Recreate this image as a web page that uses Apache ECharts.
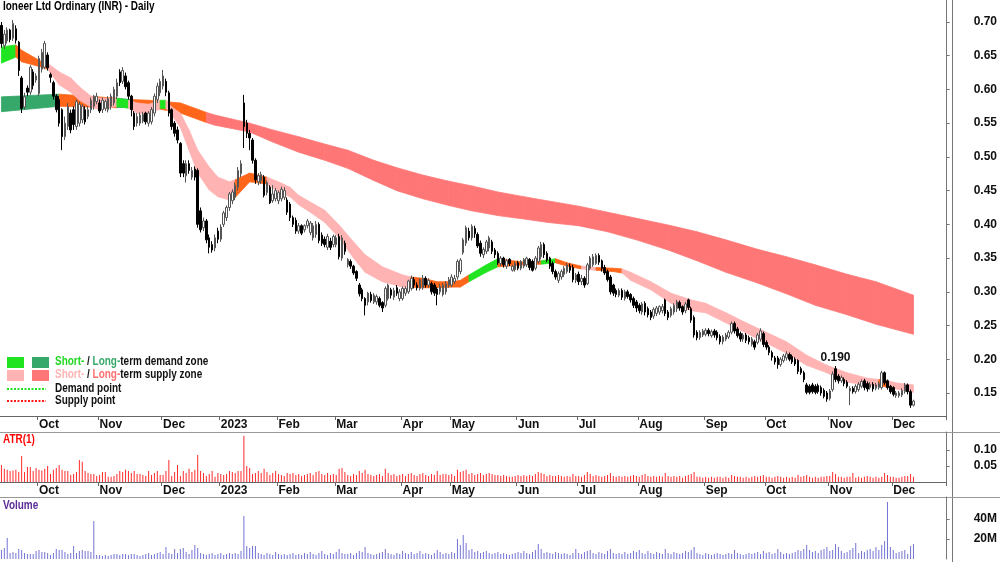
<!DOCTYPE html>
<html>
<head>
<meta charset="utf-8">
<script src="https://cdn.jsdelivr.net/npm/echarts@6/dist/echarts.min.js"></script>
<style>
  html, body { margin: 0; background: #fff; }
  #chart { width: 1000px; height: 562px; }
</style>
</head>
<body>
<div id="chart"></div>
<script>
// trading days, Sep 2022 - Dec 2023, plus a few empty slots at the right edge
const dayCount = 328
const days = Array.from({ length: dayCount }, (_, i) => i)
const monthStart = [13, 34, 56, 76, 96, 116, 139, 156, 179, 200, 221, 244, 265, 287, 309]
const monthLabels = ['Oct', 'Nov', 'Dec', '2023', 'Feb', 'Mar', 'Apr', 'May', 'Jun', 'Jul', 'Aug', 'Sep', 'Oct', 'Nov', 'Dec']

const priceTicks = [0.15, 0.20, 0.25, 0.30, 0.35, 0.40, 0.45, 0.50, 0.55, 0.60, 0.65, 0.70]
const atrTicks = [0.05, 0.10]
const volTicks = [20, 40]

// [open, close, low, high]
const candles = [
  // Sep 2022
  [.695,.668,.662,.70],[.665,.682,.66,.688],[.672,.688,.668,.692],[.688,.674,.67,.69],[.676,.698,.672,.703],
  [.69,.673,.668,.695],[.67,.628,.62,.672],[.617,.572,.565,.62],[.574,.589,.57,.595],[.602,.596,.59,.606],
  [.596,.633,.592,.636],[.626,.606,.60,.63],[.614,.62,.61,.624],
  // Oct
  [.594,.646,.59,.65],[.63,.655,.625,.66],[.633,.668,.63,.672],[.651,.632,.628,.655],[.622,.618,.61,.625],
  [.61,.59,.585,.613],[.59,.57,.566,.593],[.585,.55,.545,.59],[.57,.53,.51,.572],[.53,.55,.525,.56],
  [.545,.575,.54,.58],[.565,.54,.535,.57],[.57,.548,.54,.575],[.545,.582,.54,.585],[.55,.578,.545,.582],
  [.555,.575,.55,.578],[.57,.552,.548,.575],[.56,.57,.556,.575],[.57,.584,.565,.588],[.575,.59,.57,.592],
  [.582,.59,.578,.595],
  // Nov
  [.58,.568,.565,.585],[.57,.584,.565,.588],[.572,.582,.568,.585],[.57,.586,.566,.59],[.575,.59,.57,.594],
  [.58,.60,.576,.604],[.59,.61,.586,.616],[.626,.61,.605,.63],[.612,.628,.608,.633],[.62,.604,.60,.625],
  [.61,.59,.585,.613],[.59,.57,.56,.592],[.565,.545,.54,.568],[.55,.56,.545,.565],[.55,.562,.546,.566],
  [.553,.563,.55,.567],[.565,.552,.548,.567],[.55,.565,.545,.568],[.552,.57,.548,.574],[.565,.59,.56,.594],
  [.585,.605,.58,.61],[.595,.612,.59,.616],
  // Dec
  [.605,.62,.60,.629],[.612,.596,.59,.616],[.595,.565,.56,.598],[.57,.545,.54,.572],[.55,.535,.53,.553],
  [.54,.525,.52,.545],[.52,.476,.47,.522],[.49,.476,.47,.495],[.472,.49,.462,.495],[.49,.48,.475,.495],
  [.47,.48,.466,.485],[.482,.47,.465,.486],[.48,.40,.395,.483],[.42,.392,.388,.425],[.395,.405,.39,.41],
  [.405,.377,.372,.408],[.38,.366,.357,.385],[.37,.362,.358,.375],[.365,.38,.36,.385],[.39,.378,.372,.395],
  // Jan 2023
  [.378,.396,.374,.40],[.40,.417,.396,.42],[.41,.425,.405,.428],[.425,.445,.42,.448],[.435,.448,.43,.452],
  [.44,.458,.436,.462],[.455,.48,.45,.485],[.475,.49,.47,.495],[.58,.545,.513,.592],[.55,.535,.528,.555],
  [.535,.528,.51,.54],[.525,.495,.49,.528],[.495,.466,.46,.498],[.463,.472,.458,.476],[.465,.474,.46,.478],
  [.47,.443,.44,.473],[.447,.462,.443,.465],[.455,.432,.43,.458],[.435,.445,.432,.458],[.438,.45,.434,.454],
  // Feb
  [.435,.447,.43,.45],[.438,.452,.434,.456],[.44,.45,.436,.455],[.436,.418,.414,.44],[.43,.41,.405,.433],
  [.41,.40,.396,.413],[.406,.39,.386,.41],[.39,.398,.386,.402],[.398,.387,.384,.40],[.392,.398,.388,.40],
  [.398,.405,.394,.408],[.388,.402,.384,.405],[.38,.398,.376,.402],[.385,.40,.38,.405],[.40,.376,.372,.403],
  [.384,.372,.368,.388],[.378,.37,.366,.382],[.366,.382,.362,.386],[.375,.366,.362,.38],[.37,.382,.366,.385],
  // Mar
  [.37,.38,.366,.384],[.382,.352,.348,.386],[.35,.38,.346,.384],[.372,.36,.355,.376],[.34,.348,.336,.35],
  [.345,.338,.334,.348],[.338,.328,.325,.34],[.33,.32,.316,.332],[.31,.297,.293,.313],[.303,.29,.286,.306],
  [.29,.28,.265,.292],[.285,.298,.28,.30],[.296,.287,.284,.30],[.285,.295,.282,.298],[.285,.293,.281,.296],
  [.29,.28,.277,.293],[.284,.276,.27,.286],[.28,.305,.277,.308],[.29,.31,.287,.312],[.303,.295,.29,.306],
  [.292,.302,.288,.306],[.306,.298,.294,.31],[.29,.30,.286,.304],
  // Apr
  [.29,.305,.287,.308],[.298,.305,.294,.308],[.30,.316,.297,.318],[.305,.32,.302,.324],[.318,.31,.305,.322],
  [.31,.306,.302,.314],[.305,.318,.302,.32],[.306,.32,.303,.325],[.32,.31,.306,.323],[.31,.317,.306,.32],
  [.312,.30,.296,.315],[.31,.298,.294,.313],[.304,.296,.28,.307],[.30,.308,.296,.312],[.296,.31,.293,.313],
  [.30,.312,.296,.316],[.31,.318,.306,.322],
  // May
  [.31,.322,.307,.326],[.315,.32,.312,.325],[.322,.345,.318,.348],[.33,.347,.326,.35],[.358,.377,.355,.38],
  [.372,.395,.368,.398],[.39,.38,.376,.395],[.38,.397,.376,.40],[.394,.386,.38,.398],[.385,.368,.365,.388],
  [.372,.357,.352,.376],[.355,.363,.35,.366],[.36,.374,.356,.377],[.365,.38,.36,.383],[.374,.36,.356,.377],
  [.362,.355,.35,.365],[.357,.343,.34,.36],[.342,.35,.338,.353],[.35,.34,.336,.352],[.338,.346,.334,.349],
  [.348,.342,.338,.35],[.332,.338,.33,.34],[.333,.342,.33,.345],
  // Jun
  [.343,.335,.332,.346],[.335,.345,.332,.347],[.338,.348,.335,.35],[.34,.35,.337,.352],[.348,.336,.332,.35],
  [.345,.332,.33,.348],[.335,.35,.332,.353],[.345,.365,.342,.368],[.352,.37,.348,.374],[.37,.355,.35,.373],
  [.357,.347,.344,.36],[.35,.338,.334,.352],[.342,.33,.326,.345],[.33,.322,.318,.333],[.317,.327,.313,.33],
  [.322,.33,.318,.333],[.326,.335,.322,.338],[.33,.34,.327,.343],[.338,.332,.328,.342],[.336,.318,.314,.34],
  [.317,.325,.313,.328],
  // Jul
  [.326,.315,.31,.33],[.315,.32,.31,.325],[.32,.31,.306,.323],[.312,.34,.31,.343],[.335,.35,.332,.353],
  [.34,.352,.337,.356],[.342,.354,.34,.357],[.354,.344,.34,.357],[.346,.335,.33,.348],[.336,.328,.325,.34],
  [.33,.318,.315,.333],[.322,.30,.296,.325],[.31,.298,.294,.312],[.302,.296,.292,.305],[.295,.302,.292,.305],
  [.302,.292,.288,.305],[.29,.30,.287,.303],[.30,.293,.29,.303],[.296,.288,.284,.298],[.29,.28,.276,.293],
  [.285,.276,.27,.288],
  // Aug
  [.28,.272,.268,.283],[.27,.282,.266,.285],[.283,.27,.265,.286],[.275,.266,.262,.278],[.27,.262,.258,.273],
  [.264,.274,.26,.277],[.268,.276,.264,.279],[.27,.278,.266,.28],[.272,.278,.268,.282],[.288,.268,.264,.29],
  [.27,.262,.258,.273],[.265,.275,.262,.278],[.27,.28,.266,.283],[.275,.285,.27,.288],[.284,.276,.272,.287],
  [.278,.27,.266,.28],[.272,.282,.268,.285],[.288,.277,.273,.29],[.275,.258,.254,.278],[.262,.236,.232,.265],
  [.24,.232,.228,.243],[.232,.24,.229,.243],[.236,.242,.233,.245],
  // Sep
  [.237,.243,.234,.246],[.243,.238,.234,.246],[.235,.241,.232,.244],[.242,.236,.232,.245],[.24,.232,.228,.243],
  [.234,.226,.222,.237],[.226,.233,.222,.236],[.23,.236,.227,.239],[.233,.24,.23,.243],[.24,.253,.237,.256],
  [.253,.242,.238,.256],[.245,.235,.232,.248],[.238,.23,.226,.241],[.23,.236,.226,.239],[.236,.228,.224,.239],
  [.232,.226,.222,.235],[.222,.23,.219,.233],[.226,.218,.214,.229],[.225,.236,.222,.239],[.23,.242,.226,.246],
  [.238,.222,.218,.241],
  // Oct
  [.225,.218,.214,.228],[.218,.21,.206,.221],[.21,.203,.198,.213],[.202,.196,.192,.205],[.202,.192,.186,.205],
  [.192,.20,.189,.203],[.198,.205,.195,.208],[.202,.208,.198,.212],[.207,.20,.197,.21],[.204,.196,.193,.207],
  [.20,.193,.19,.203],[.198,.182,.178,.20],[.186,.18,.177,.189],[.18,.17,.166,.183],[.162,.151,.148,.165],
  [.16,.151,.148,.163],[.162,.152,.149,.165],[.16,.151,.148,.163],[.161,.152,.149,.164],[.158,.15,.146,.161],
  [.154,.145,.142,.157],[.15,.141,.137,.153],
  // Nov
  [.142,.153,.139,.156],[.155,.178,.152,.182],[.186,.17,.166,.19],[.175,.168,.164,.178],[.168,.173,.165,.176],
  [.17,.164,.16,.173],[.166,.16,.157,.169],[.153,.157,.132,.16],[.157,.152,.149,.16],[.152,.16,.149,.163],
  [.155,.163,.152,.166],[.16,.167,.157,.17],[.168,.158,.154,.171],[.164,.156,.152,.167],[.158,.163,.155,.166],
  [.163,.156,.152,.166],[.157,.162,.154,.165],[.158,.164,.155,.167],[.158,.18,.155,.183],[.18,.165,.162,.182],
  [.168,.158,.155,.17],[.16,.152,.149,.162],
  // Dec
  [.158,.148,.145,.16],[.146,.15,.143,.153],[.146,.15,.143,.153],[.147,.154,.144,.157],[.152,.162,.149,.165],
  [.162,.152,.148,.164],[.152,.132,.128,.155],[.132,.138,.13,.14]
]

const atr = [
  .053,.041,.038,.034,.036,.038,.031,.081,.031,.047,
  .047,.034,.044,.038,.036,.041,.05,.025,.038,.044,
  .053,.038,.034,.034,.022,.025,.031,.069,.063,.034,
  .028,.025,.025,.019,.022,.031,.031,.016,.016,.019,
  .025,.034,.031,.038,.034,.028,.034,.025,.025,.022,
  .019,.034,.022,.028,.034,.022,.022,.034,.069,.019,
  .031,.053,.019,.034,.028,.041,.031,.038,.084,.034,
  .028,.019,.025,.034,.016,.028,.025,.022,.025,.034,
  .031,.028,.034,.034,.144,.05,.044,.025,.028,.034,
  .028,.041,.031,.022,.028,.034,.025,.022,.019,.028,
  .025,.028,.022,.025,.019,.022,.025,.028,.022,.031,
  .034,.025,.022,.028,.022,.025,.022,.041,.044,.031,
  .022,.019,.025,.022,.034,.028,.038,.025,.022,.019,
  .022,.025,.019,.041,.028,.022,.025,.019,.022,.025,
  .019,.025,.028,.022,.019,.025,.028,.022,.019,.025,
  .022,.034,.022,.025,.025,.022,.025,.019,.038,.031,
  .034,.038,.025,.028,.022,.025,.028,.022,.025,.028,
  .025,.022,.022,.019,.022,.019,.016,.016,.019,.022,
  .019,.022,.019,.022,.019,.025,.031,.028,.025,.019,
  .022,.019,.019,.022,.019,.016,.019,.016,.025,.019,
  .019,.016,.022,.031,.025,.019,.022,.019,.016,.019,
  .022,.028,.019,.016,.019,.016,.019,.016,.019,.022,
  .019,.016,.022,.025,.019,.016,.019,.016,.019,.016,
  .028,.019,.016,.019,.016,.019,.013,.019,.022,.025,
  .031,.016,.016,.013,.016,.013,.016,.013,.016,.016,
  .013,.016,.013,.022,.019,.016,.016,.013,.016,.013,
  .016,.019,.016,.019,.022,.016,.016,.013,.016,.019,
  .016,.013,.016,.013,.016,.013,.022,.016,.019,.022,
  .016,.013,.016,.013,.016,.016,.019,.019,.031,.025,
  .016,.016,.013,.016,.016,.028,.013,.016,.013,.016,
  .019,.016,.013,.016,.013,.016,.028,.022,.016,.016,
  .013,.013,.016,.019,.019,.025,.016
]

// millions of shares
const volume = [
  9,11,21,6,7,6,10,9,6,5,
  5,5,8,9,7,7,6,4,6,10,
  9,9,7,5,6,13,6,8,9,8,
  8,7,38,4,4,3,4,3,4,5,
  5,4,5,5,4,5,5,4,3,4,
  5,6,4,5,6,7,5,12,6,5,
  10,6,10,11,7,5,9,14,11,6,
  5,4,5,6,4,5,6,4,5,6,
  5,6,5,8,43,13,11,13,13,6,
  5,4,6,5,4,7,5,4,5,4,
  5,6,4,5,4,6,5,7,5,4,
  6,8,5,4,6,5,7,10,6,5,
  5,6,4,6,8,7,12,6,5,4,
  5,6,7,10,6,5,4,6,5,8,
  6,5,7,5,6,8,5,6,5,4,
  6,9,7,5,6,5,7,6,20,14,
  24,16,9,10,7,8,6,7,8,6,
  5,6,7,5,6,5,4,5,6,7,
  6,8,6,5,7,9,15,10,6,7,
  6,5,7,6,5,6,5,4,6,10,
  6,5,7,8,9,6,5,7,6,5,
  8,10,6,5,6,5,7,5,6,8,
  7,9,6,5,8,6,5,7,6,5,
  10,6,5,7,6,5,6,8,7,9,
  12,6,5,4,6,5,4,5,6,5,
  4,5,6,5,9,6,5,4,5,6,
  5,6,7,5,8,6,7,5,6,10,
  7,5,6,5,6,7,9,8,10,14,
  9,7,8,6,9,10,12,8,9,15,
  12,8,6,7,9,11,16,6,8,7,
  9,10,8,12,9,14,18,57,12,9,
  6,7,8,9,5,13,15
]

// zone bands: [day, upper, lower, zone of the stretch that starts here]
const longBand = [
  [0,.589,.567,'ld'],[20,.593,.575,'tr'],[40,.587,.573,'ld'],[45,.585,.574,'tr'],[51,.584,.574,'tr'],
  [62,.580,.565,'tr'],[71,.566,.551,'ls'],[74,.562,.547,'ls'],[86,.550,.537,'ls'],[94,.540,.522,'ls'],
  [103,.530,.507,'ls'],[112,.519,.495,'ls'],[120,.510,.483,'ls'],[129,.495,.465,'ls'],[137,.484,.450,'ls'],
  [146,.473,.438,'ls'],[155,.464,.428,'ls'],[163,.457,.420,'ls'],[172,.448,.413,'ls'],[181,.441,.408,'ls'],
  [189,.435,.403,'ls'],[200,.427,.398,'ls'],[210,.418,.389,'ls'],[220,.409,.377,'ls'],[231,.399,.362,'ls'],
  [241,.389,.346,'ls'],[251,.377,.329,'ls'],[262,.363,.313,'ls'],[272,.352,.297,'ls'],[282,.340,.280,'ls'],
  [293,.326,.266,'ls'],[303,.315,.252,'ls'],[316,.295,.237,'ls']
]
const shortBand = [
  [0,.663,.639,'sd'],[5,.666,.648,'tr'],[7,.658,.641,'tr'],[14,.641,.633,'tr'],[16,.639,.630,'ss'],
  [20,.626,.607,'ss'],[24,.617,.596,'ss'],[27,.604,.584,'ss'],[31,.590,.574,'ss'],[34,.587,.570,'ss'],
  [40,.587,.575,'sd'],[44,.584,.572,'ss'],[47,.580,.565,'ss'],[51,.578,.562,'ss'],[55,.584,.572,'sd'],
  [57,.584,.572,'ss'],[59,.574,.562,'ss'],[62,.565,.544,'ss'],[65,.540,.510,'ss'],[68,.510,.476,'ss'],
  [72,.485,.451,'ss'],[75,.470,.441,'ss'],[79,.463,.436,'ss'],[81,.466,.440,'tr'],[86,.476,.463,'tr'],
  [92,.470,.460,'ss'],[96,.463,.448,'ss'],[100,.455,.441,'ss'],[103,.443,.429,'ss'],[107,.433,.418,'ss'],
  [112,.421,.403,'ss'],[117,.399,.380,'ss'],[122,.374,.350,'ss'],[126,.355,.329,'ss'],[132,.337,.315,'ss'],
  [139,.325,.307,'ss'],[142,.322,.307,'tr'],[146,.320,.306,'tr'],[151,.315,.306,'tr'],[156,.315,.307,'tr'],
  [159,.317,.307,'tr'],[162,.325,.315,'sd'],[168,.340,.329,'sd'],[172,.349,.337,'tr'],[181,.344,.340,'tr'],
  [187,.346,.341,'sd'],[192,.349,.343,'tr'],[196,.343,.338,'tr'],[201,.338,.334,'ss'],[206,.336,.332,'tr'],
  [212,.335,.330,'tr'],[215,.334,.328,'ss'],[218,.329,.317,'ss'],[225,.315,.303,'ss'],[232,.298,.283,'ss'],
  [239,.288,.272,'ss'],[244,.283,.269,'ss'],[251,.269,.254,'ss'],[258,.254,.239,'ss'],[265,.240,.224,'ss'],
  [272,.226,.209,'ss'],[279,.206,.191,'ss'],[286,.191,.180,'ss'],[293,.180,.166,'ss'],[300,.172,.162,'ss'],
  [304,.170,.160,'tr'],[307,.168,.159,'ss'],[310,.165,.156,'ss'],[316,.162,.151,'ss']
]

const peakDay = 289
const peakValue = 0.190

const zoneColors = { sd: '#1fe41f', ld: '#36a86a', ss: '#ffb3b3', ls: '#ff7676', tr: '#ff6619' }
const font = '"Liberation Sans", Arial, sans-serif'
const boldFont = 'bold 12px ' + font
// the original uses a narrow face, so free text is squeezed sideways
const squeeze = 0.83

function isMonthStart(index) {
  return monthStart.indexOf(index) !== -1
}

function bandSeries(band, z) {
  return {
    type: 'custom',
    xAxisIndex: 0,
    yAxisIndex: 0,
    silent: true,
    z: z,
    data: band.slice(0, -1).map((p, k) => [p[0], p[1], p[2], band[k + 1][0], band[k + 1][1], band[k + 1][2]]),
    encode: { x: [0, 3], y: [1, 2, 4, 5] },
    renderItem: (params, api) => {
      const col = zoneColors[band[params.dataIndex][3]]
      const pts = [
        api.coord([api.value(0), api.value(1)]),
        api.coord([api.value(3), api.value(4)]),
        api.coord([api.value(3), api.value(5)]),
        api.coord([api.value(0), api.value(2)])
      ]
      return { type: 'polygon', shape: { points: pts }, style: { fill: col, stroke: col, lineWidth: 0.8 } }
    }
  }
}

const monthAxis = (gridIndex) => ({
  type: 'category',
  gridIndex: gridIndex,
  data: days,
  boundaryGap: true,
  axisLine: { lineStyle: { color: '#666' } },
  axisTick: { show: true, interval: (i) => isMonthStart(i), length: 4, lineStyle: { color: '#666' } },
  axisLabel: {
    interval: (i) => isMonthStart(i),
    formatter: (v, i) => monthLabels[monthStart.indexOf(i)] || '',
    align: 'left',
    margin: 3,
    color: '#111',
    fontWeight: 'bold',
    fontSize: 12,
    fontFamily: font
  },
  splitLine: { show: false }
})

const rightAxis = (gridIndex, min, max, ticks, fmt) => ({
  type: 'value',
  gridIndex: gridIndex,
  position: 'right',
  min: min,
  max: max,
  axisLine: { show: true, lineStyle: { color: '#777' } },
  axisTick: { show: true, length: 3, customValues: ticks, lineStyle: { color: '#777' } },
  axisLabel: {
    customValues: ticks,
    formatter: fmt,
    margin: 27,
    color: '#111',
    fontWeight: 'bold',
    fontSize: 12,
    fontFamily: font
  },
  splitLine: { show: false }
})

function label(x, y, text, fill, rich) {
  return {
    type: 'text', x: x, y: y, scaleX: squeeze, originX: 0, originY: 0,
    style: { text: text, font: boldFont, fill: fill, rich: rich }
  }
}

const chart = echarts.init(document.getElementById('chart'))

chart.setOption({
  animation: false,
  backgroundColor: '#fff',
  grid: [
    { left: 0, right: 48, top: 0, height: 416 },
    { left: 0, right: 48, top: 432, height: 50 },
    { left: 0, right: 48, top: 497, height: 62 }
  ],
  xAxis: [
    monthAxis(0),
    monthAxis(1),
    { type: 'category', gridIndex: 2, data: days, show: false }
  ],
  yAxis: [
    rightAxis(0, 0.1159, 0.7326, priceTicks, v => v.toFixed(2)),
    rightAxis(1, 0, 0.156, atrTicks, v => v.toFixed(2)),
    rightAxis(2, 0, 62, volTicks, v => v + 'M')
  ],
  series: [
    bandSeries(longBand, 1),
    bandSeries(shortBand, 2),
    {
      name: 'Price',
      type: 'candlestick',
      xAxisIndex: 0,
      yAxisIndex: 0,
      z: 3,
      data: candles,
      barWidth: 2,
      itemStyle: { color: '#fff', color0: '#000', borderColor: '#555', borderColor0: '#000', borderWidth: 1 },
      markPoint: {
        symbol: 'rect',
        symbolSize: 1,
        silent: true,
        itemStyle: { color: 'rgba(0,0,0,0)' },
        label: {
          show: true,
          position: 'top',
          distance: 2,
          formatter: peakValue.toFixed(3),
          color: '#111',
          fontWeight: 'bold',
          fontSize: 12,
          fontFamily: font
        },
        data: [{ coord: [peakDay, peakValue] }]
      }
    },
    {
      name: 'ATR(1)',
      type: 'bar',
      xAxisIndex: 1,
      yAxisIndex: 1,
      data: atr,
      barWidth: 1,
      itemStyle: { color: '#ff2b2b' }
    },
    {
      name: 'Volume',
      type: 'bar',
      xAxisIndex: 2,
      yAxisIndex: 2,
      data: volume,
      barWidth: 1,
      itemStyle: { color: '#7474d4' }
    }
  ],
  graphic: [
    { type: 'line', shape: { x1: 952.5, y1: 0, x2: 952.5, y2: 562 }, style: { stroke: '#777', lineWidth: 1 } },
    { type: 'line', shape: { x1: 0, y1: 432.5, x2: 1000, y2: 432.5 }, style: { stroke: '#999', lineWidth: 1 } },
    { type: 'line', shape: { x1: 0, y1: 497.5, x2: 1000, y2: 497.5 }, style: { stroke: '#999', lineWidth: 1 } },
    label(3, 1, 'Ioneer Ltd Ordinary (INR) - Daily', '#000'),
    label(3, 434, 'ATR(1)', '#ff0000'),
    label(3, 500, 'Volume', '#5b2d96'),
    // legend
    { type: 'rect', shape: { x: 7, y: 357, width: 17, height: 11 }, style: { fill: zoneColors.sd } },
    { type: 'rect', shape: { x: 32, y: 357, width: 17, height: 11 }, style: { fill: zoneColors.ld } },
    { type: 'rect', shape: { x: 7, y: 370, width: 17, height: 11 }, style: { fill: zoneColors.ss } },
    { type: 'rect', shape: { x: 32, y: 370, width: 17, height: 11 }, style: { fill: zoneColors.ls } },
    label(55, 356, '{a|Short-} / {b|Long-}term demand zone', '#111',
      { a: { fill: '#1fd81f', font: boldFont }, b: { fill: '#36a86a', font: boldFont } }),
    label(55, 369, '{a|Short-} / {b|Long-}term supply zone', '#111',
      { a: { fill: '#ffb3b3', font: boldFont }, b: { fill: '#ff7070', font: boldFont } }),
    { type: 'line', shape: { x1: 7, y1: 389, x2: 46, y2: 389 }, style: { stroke: '#1fe41f', lineWidth: 2, lineDash: [2, 1.5] } },
    { type: 'line', shape: { x1: 7, y1: 401, x2: 46, y2: 401 }, style: { stroke: '#ff1a1a', lineWidth: 2, lineDash: [2, 1.5] } },
    label(55, 383, 'Demand point', '#111'),
    label(55, 395, 'Supply point', '#111')
  ]
})
</script>
</body>
</html>
